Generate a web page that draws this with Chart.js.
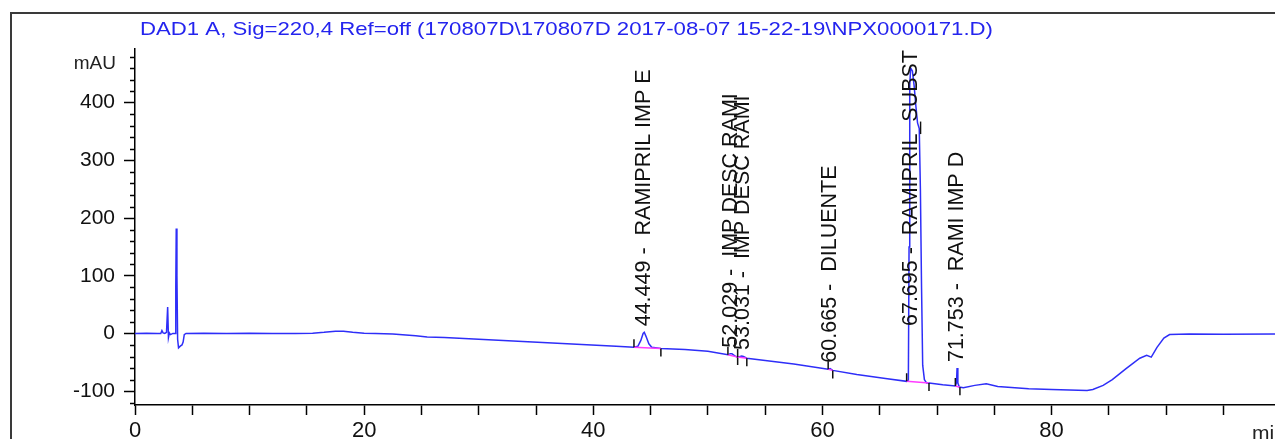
<!DOCTYPE html>
<html>
<head>
<meta charset="utf-8">
<script src="https://cdn.jsdelivr.net/npm/chart.js@4.4.1/dist/chart.umd.min.js"></script>
<style>
  html, body { margin: 0; padding: 0; background: #fff; }
  #wrap { width: 1275px; height: 439px; }
</style>
</head>
<body>
<div id="wrap"><canvas id="chromChart" width="1275" height="439"></canvas></div>
<script>
// 'use strict';

// // // SIGNAL DATA
let signalTitle = 'DAD1 A, Sig=220,4 Ref=off (170807D\\170807D 2017-08-07 15-22-19\\NPX0000171.D)';

// retention time (min) and detector response (mAU)
let retTimes = [
  0, 1.0, 2.0, 2.25, 2.35, 2.45, 2.6, 2.75, 2.85, 2.92, 3.0, 3.1, 3.3, 3.5,
  3.56, 3.6, 3.66, 3.72, 3.8, 3.95, 4.1, 4.2, 4.3, 4.45,
  6, 8, 10, 12, 14, 15.5, 16.5, 17.5, 18.2, 19, 20, 21, 22.5, 24.5, 25.5, 27,
  30, 33, 36, 39, 42, 43.55, 43.9, 44.15, 44.35, 44.45, 44.6, 44.85, 45.1, 45.9,
  48, 50, 51.75, 51.95, 52.1, 52.35, 52.6, 52.95, 53.1, 53.4, 55, 57.5,
  60.5, 60.665, 60.9, 63, 65.5, 67.35, 67.5, 67.56, 67.62, 67.7, 67.85, 68.0,
  68.15, 68.3, 68.45, 68.55, 68.65, 68.75, 68.9, 69.1, 69.3, 70.5,
  71.6, 71.7, 71.75, 71.82, 71.95, 72.3, 73.3, 74.3, 75.3, 78, 80, 83.1,
  83.6, 84.5, 85.3, 86.5, 87.7, 88.3, 88.7, 89.2, 89.8, 90.3, 92, 95, 99.5
];
let absorbance = [
  0, 0.5, 0, 0, 5, 1, 0, 2, 46, -7, 1, -2, 0, 0,
  80, 182, 100, -10, -25, -22, -20, -15, -2, 0,
  0.5, 0, 0.5, 0, 0, 0.5, 2, 4, 4, 2, 0.5, 0, -1, -4, -6, -7,
  -10, -13, -16, -19, -22, -24, -22, -12, 0, 2, -5, -18, -24, -26,
  -28, -31, -37, -35, -35, -39, -41, -39, -40, -43, -47, -53,
  -62, -61, -64, -71, -78, -83, -81, 150, 430, 460, 455, 430,
  395, 365, 355, 250, 80, -55, -80, -86, -86, -89,
  -91, -85, -60, -86, -93, -94, -90, -87, -92, -96, -97, -99,
  -97, -90, -80, -61, -43, -38, -41, -24, -8, -2, -1, -1.5, -1
];

// integrated peaks
let peakTimes = [44.449, 52.029, 53.031, 60.665, 67.695, 71.753];
let peakNames = ['RAMIPRIL IMP E', 'IMP DESC RAMI', 'IMP DESC RAMI', 'DILUENTE', 'RAMIPRIL_SUBST', 'RAMI IMP D'];
let peakStart = [43.55, 51.75, 52.6, 60.5, 67.35, 71.6];
let peakEnd = [45.9, 52.6, 53.4, 60.9, 69.3, 72.0];

// axis ticks
let yTickValues = [-100, 0, 100, 200, 300, 400];
let xTickValues = [0, 20, 40, 60, 80];

// // // HELPERS

function valueAt(t) {
  for (let i = 1; i < retTimes.length; i++) {
    if (retTimes[i] >= t) {
      let f = (t - retTimes[i - 1]) / (retTimes[i] - retTimes[i - 1]);
      return absorbance[i - 1] + f * (absorbance[i] - absorbance[i - 1]);
    }
  }
  return absorbance[absorbance.length - 1];
}

function apexValue(i) {
  let top = valueAt(peakTimes[i]);
  for (let k = 0; k < retTimes.length; k++) {
    if (retTimes[k] >= peakStart[i] && retTimes[k] <= peakEnd[i]) {
      top = Math.max(top, absorbance[k]);
    }
  }
  return top;
}

let points = [];
for (let i = 0; i < retTimes.length; i++) {
  points.push({ x: retTimes[i], y: absorbance[i] });
}

let fontFamily = '"Liberation Sans", Arial, sans-serif';
Chart.defaults.font.family = fontFamily;

// frame, title, unit labels, minor ticks and peak annotations
let chromDecor = {
  id: 'chromDecor',
  beforeDraw(chart) {
    let ctx = chart.ctx;
    ctx.save();
    ctx.strokeStyle = '#3a3a3a';
    ctx.lineWidth = 2;
    ctx.beginPath();
    ctx.moveTo(11, chart.height);
    ctx.lineTo(11, 13);
    ctx.lineTo(chart.width, 13);
    ctx.stroke();

    // signal title, stretched the way the instrument prints it
    ctx.font = '19px ' + fontFamily;
    ctx.fillStyle = '#2424ee';
    ctx.textBaseline = 'alphabetic';
    let w = ctx.measureText(signalTitle).width;
    ctx.translate(140, 35);
    ctx.scale(853 / w, 1);
    ctx.fillText(signalTitle, 0, 0);
    ctx.restore();
  },
  afterDraw(chart) {
    let ctx = chart.ctx;
    let xs = chart.scales.x;
    let ys = chart.scales.y;
    let left = chart.chartArea.left;
    ctx.save();

    // unit labels
    ctx.fillStyle = '#222';
    ctx.font = '19px ' + fontFamily;
    ctx.textAlign = 'right';
    ctx.textBaseline = 'middle';
    ctx.fillText('mAU', 116, 64);
    ctx.textAlign = 'left';
    ctx.textBaseline = 'top';
    ctx.font = '21px ' + fontFamily;
    ctx.fillText('min', 1252, 424);

    // minor y ticks every 20 mAU
    ctx.strokeStyle = '#000';
    ctx.lineWidth = 1.5;
    ctx.beginPath();
    for (let v = -120; v <= 480; v += 20) {
      if (v % 100 === 0) continue;
      let y = Math.round(ys.getPixelForValue(v)) + 0.5;
      ctx.moveTo(left - 5, y);
      ctx.lineTo(left, y);
    }
    ctx.stroke();

    // integration baselines and start / end marks
    for (let i = 0; i < peakTimes.length; i++) {
      let x1 = xs.getPixelForValue(peakStart[i]);
      let y1 = ys.getPixelForValue(valueAt(peakStart[i]));
      let x2 = xs.getPixelForValue(peakEnd[i]);
      let y2 = ys.getPixelForValue(valueAt(peakEnd[i]));
      ctx.strokeStyle = '#ff3cff';
      ctx.lineWidth = 1.5;
      ctx.beginPath();
      ctx.moveTo(x1, y1);
      ctx.lineTo(x2, y2);
      ctx.stroke();
      ctx.strokeStyle = '#111';
      ctx.lineWidth = 1.5;
      ctx.beginPath();
      ctx.moveTo(x1, y1 - 8);
      ctx.lineTo(x1, y1);
      ctx.moveTo(x2, y2);
      ctx.lineTo(x2, y2 + 8);
      ctx.stroke();
    }

    // retention time + name, written upwards from the apex
    ctx.font = '21.5px ' + fontFamily;
    ctx.fillStyle = '#111';
    ctx.textAlign = 'left';
    ctx.textBaseline = 'middle';
    for (let i = 0; i < peakTimes.length; i++) {
      let text = peakTimes[i].toFixed(3) + ' -  ' + peakNames[i];
      let tw = ctx.measureText(text).width;
      let x = xs.getPixelForValue(peakTimes[i]);
      let base = ys.getPixelForValue(apexValue(i)) - 6;
      base = Math.max(base, 50 + tw);
      ctx.save();
      ctx.translate(x, base);
      ctx.rotate(-Math.PI / 2);
      ctx.fillText(text, 0, 0);
      ctx.restore();
    }
    ctx.restore();
  }
};

// // // CHART

let config = {
  type: 'scatter',
  data: {
    datasets: [{
      data: points,
      showLine: true,
      borderColor: '#2e2ef8',
      borderWidth: 1.5,
      pointRadius: 0,
      tension: 0
    }]
  },
  options: {
    responsive: false,
    animation: false,
    devicePixelRatio: 1,
    layout: { padding: { top: 49, left: 0, right: 0, bottom: 0 } },
    plugins: {
      legend: { display: false },
      tooltip: { enabled: false }
    },
    scales: {
      x: {
        type: 'linear',
        min: 0,
        max: 99.5,
        afterBuildTicks: (scale) => {
          let t = [];
          for (let v = 0; v < 100; v += 5) t.push({ value: v });
          scale.ticks = t;
        },
        afterFit: (scale) => { scale.height = 34; },
        grid: { drawOnChartArea: false, tickLength: 10, tickColor: '#000', tickWidth: 1.5 },
        border: { color: '#000', width: 1.5 },
        ticks: {
          autoSkip: false,
          maxRotation: 0,
          padding: 3,
          color: '#111',
          font: { size: 22 },
          callback: (v) => xTickValues.includes(v) ? v : ''
        }
      },
      y: {
        min: -124,
        max: 493,
        afterBuildTicks: (scale) => {
          scale.ticks = yTickValues.map(v => ({ value: v }));
        },
        afterFit: (scale) => { scale.width = 135; },
        grid: { drawOnChartArea: false, tickLength: 11, tickColor: '#000', tickWidth: 1.5 },
        border: { color: '#000', width: 1.5 },
        ticks: {
          padding: 9,
          color: '#111',
          font: { size: 21 }
        }
      }
    }
  },
  plugins: [chromDecor]
};

let myChart = new Chart(document.getElementById('chromChart'), config);
</script>
</body>
</html>
